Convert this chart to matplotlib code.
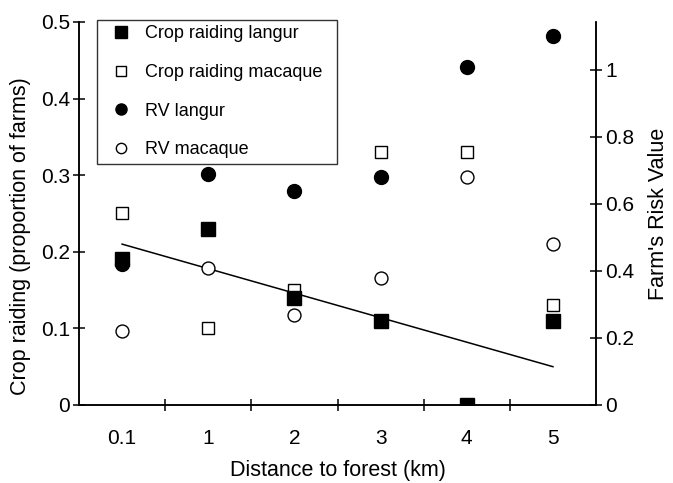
import numpy as np
import matplotlib
matplotlib.use('Agg')
import matplotlib.pyplot as plt

plt.rcParams['font.family'] = ['Liberation Sans', 'DejaVu Sans']

# distance categories (km)
distances = ['0.1', '1', '2', '3', '4', '5']

# crop raiding, proportion of farms (left axis)
raid_langur = [0.19, 0.23, 0.14, 0.11, 0.0, 0.11]
raid_macaque = [0.25, 0.10, 0.15, 0.33, 0.33, 0.13]

# farm's risk value (right axis)
rv_langur = [0.42, 0.69, 0.64, 0.68, 1.01, 1.10]
rv_macaque = [0.22, 0.41, 0.27, 0.38, 0.68, 0.48]

left_ticks = [0, 0.1, 0.2, 0.3, 0.4, 0.5]
left_labels = ['0', '0.1', '0.2', '0.3', '0.4', '0.5']
right_ticks = [0, 0.2, 0.4, 0.6, 0.8, 1.0]
right_labels = ['0', '0.2', '0.4', '0.6', '0.8', '1']

x = np.arange(len(distances))

fig = plt.figure(figsize=(6.73, 4.83), dpi=100)
ax = fig.add_axes([0.1174, 0.1615, 0.7682, 0.793])
ax2 = ax.twinx()

# linear fit of langur crop raiding
slope, icpt = np.polyfit(x, raid_langur, 1)
ax.plot(x, icpt + slope * x, color='black', lw=1.1, zorder=2)

h1, = ax.plot(x, raid_langur, ls='none', marker='s', ms=10, mfc='black',
              mec='black', label='Crop raiding langur', zorder=4)
h2, = ax.plot(x, raid_macaque, ls='none', marker='s', ms=9.3, mfc='white',
              mec='black', mew=1.0, label='Crop raiding macaque', zorder=3)
h3, = ax2.plot(x, rv_langur, ls='none', marker='o', ms=10, mfc='black',
               mec='black', label='RV langur', zorder=4)
h4, = ax2.plot(x, rv_macaque, ls='none', marker='o', ms=9.3, mfc='white',
               mec='black', mew=1.0, label='RV macaque', zorder=3)

ax.set_xlim(-0.5, 5.5)
ax.set_ylim(0, 0.5)
ax2.set_ylim(0, 0.5 * 766 / 335)

for a in (ax, ax2):
    a.spines['top'].set_visible(False)
    for s in a.spines.values():
        s.set_linewidth(1.1)

ax.set_yticks(left_ticks)
ax.set_yticklabels(left_labels, fontsize=15)
ax2.set_yticks(right_ticks)
ax2.set_yticklabels(right_labels, fontsize=15)

# tick marks between categories, labels at category centres
ax.set_xticks(x[:-1] + 0.5)
ax.set_xticklabels([''] * (len(x) - 1))
ax.set_xticks(x, minor=True)
ax.set_xticklabels(distances, minor=True, fontsize=15)
ax.tick_params(axis='x', which='major', direction='inout', length=9, width=1.1)
ax.tick_params(axis='x', which='minor', length=0, pad=17)
ax.tick_params(axis='y', direction='inout', length=9, width=1.1, pad=2)
ax2.tick_params(axis='y', direction='inout', length=9, width=1.1, pad=2)

ax.set_xlabel('Distance to forest (km)', fontsize=15.5, labelpad=9)
ax.set_ylabel('Crop raiding (proportion of farms)', fontsize=15.5)
ax.yaxis.set_label_coords(-0.092, 0.44)
ax2.set_ylabel("Farm's Risk Value", fontsize=15.5, labelpad=10)

leg = ax2.legend(handles=[h1, h2, h3, h4], loc='upper left',
                 bbox_to_anchor=(0.035, 0.5, 0.464, 0.505), mode='expand',
                 borderaxespad=0, fontsize=13, frameon=True, fancybox=False,
                 edgecolor='black', markerscale=0.8, handletextpad=0.33,
                 labelspacing=1.2, borderpad=0.3, handlelength=2.05)
leg.get_frame().set_linewidth(1.0)

fig.savefig('out.png', dpi=100)
